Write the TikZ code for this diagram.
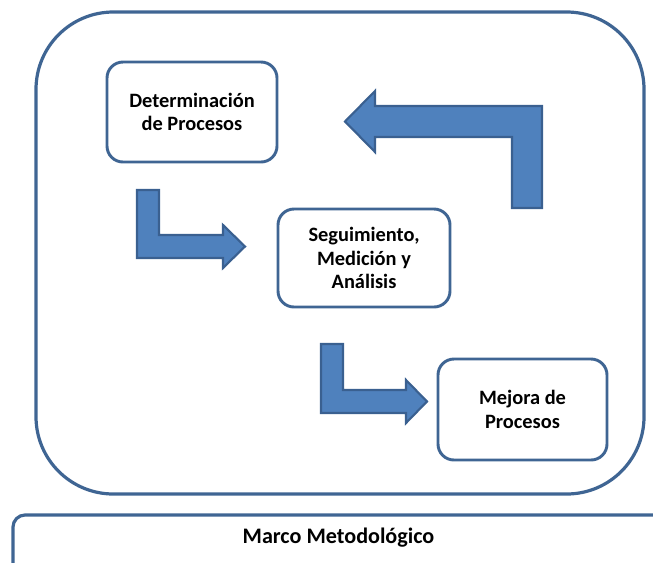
\documentclass[tikz,border=0pt]{standalone}
\usepackage{fontspec}
\setmainfont{Carlito}
\definecolor{frameblue}{HTML}{3F6593}
\definecolor{arrowfill}{HTML}{4F81BD}
\definecolor{arrowline}{HTML}{3A6090}
\begin{document}
\begin{tikzpicture}[x=0.75pt,y=-0.75pt,
  stagebox/.style={draw=frameblue, line width=2.2pt, fill=white, rounded corners=12pt,
    align=center, font=\fontsize{15.3}{17.8}\selectfont\bfseries, inner sep=0pt},
  bentarrow/.style={fill=arrowfill, draw=arrowline, line width=1.6pt, line join=miter}]
  \useasboundingbox (0,0) rectangle (653,562);

  % outer frame and the bottom label band
  \draw[draw=frameblue, line width=2.4pt, rounded corners=58pt] (36,12) rectangle (644,494);
  \draw[draw=frameblue, line width=2.4pt, rounded corners=9pt] (13,515) rectangle (680,600);
  \node[font=\fontsize{16.6}{19}\selectfont\bfseries] (marco) at (338.5,538) {Marco Metodológico};

  % process stages
  \node[stagebox, minimum width=127.5pt, minimum height=75pt] (det) at (192,112)
    {Determinación\\de Procesos};
  \node[stagebox, minimum width=129pt, minimum height=73.5pt] (seg) at (364,258)
    {Seguimiento,\\Medición y\\Análisis};
  \node[stagebox, minimum width=126.75pt, minimum height=75.75pt] (mej) at (522.5,409.5)
    {Mejora de\\Procesos};

  % bent block arrows between the stages
  \draw[bentarrow] (137,190) -- (159,190) -- (159,235) -- (223,235) -- (223,225)
    -- (245,246.5) -- (223,268) -- (223,258) -- (137,258) -- cycle;
  \draw[bentarrow] (321,344) -- (343,344) -- (343,390) -- (406,390) -- (406,380)
    -- (427,401.5) -- (406,423) -- (406,413) -- (321,413) -- cycle;
  \draw[bentarrow] (542,208) -- (512,208) -- (512,137) -- (375,137) -- (375,152)
    -- (345,121.5) -- (375,91) -- (375,106) -- (542,106) -- cycle;
\end{tikzpicture}
\end{document}
